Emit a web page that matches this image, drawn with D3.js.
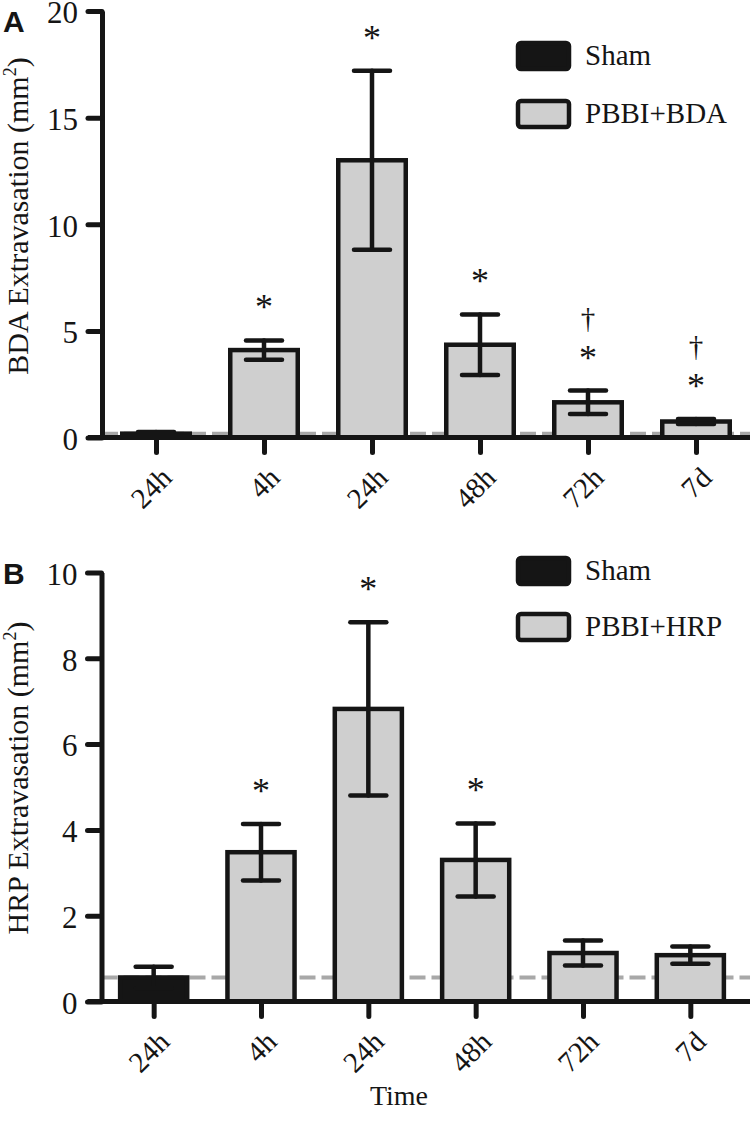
<!DOCTYPE html>
<html><head><meta charset="utf-8">
<script src="https://cdn.jsdelivr.net/npm/d3@7"></script>
<style>body{margin:0;background:#fff}svg{display:block}</style>
</head><body>
<svg id="c" width="752" height="1121"></svg>
<script>
// ---- data ----
const categories = ["24h", "4h", "24h", "48h", "72h", "7d"];
const groups = ["Sham", "PBBI", "PBBI", "PBBI", "PBBI", "PBBI"];
const bdaMean = [0.18, 4.1, 13.0, 4.35, 1.65, 0.75];
const bdaSem = [0.08, 0.45, 4.2, 1.42, 0.55, 0.12];
const bdaMarks = ["", "*", "*", "*", "†*", "†*"];
const hrpMean = [0.56, 3.48, 6.82, 3.3, 1.13, 1.08];
const hrpSem = [0.25, 0.66, 2.02, 0.85, 0.29, 0.2];
const hrpMarks = ["", "*", "*", "*", "", ""];
const bdaTicks = [0, 5, 10, 15, 20];
const hrpTicks = [0, 2, 4, 6, 8, 10];
const legendA = ["Sham", "PBBI+BDA"];
const legendB = ["Sham", "PBBI+HRP"];

const BLACK = "#151515", GRAY = "#cfcfcf", DASH = "#a8a8a8";
const svg = d3.select("#c");
const serif = "'Liberation Serif','Times New Roman',serif";

function panel(cfg) {
  const g = svg.append("g");
  const y = d3.scaleLinear().domain(cfg.domain).range(cfg.yRange);
  const x = d3.scalePoint().domain(d3.range(categories.length)).range(cfg.xRange).padding(0.5);
  const bw = x.step() * 0.625;
  const data = categories.map((c, i) => ({i, c, grp: groups[i], m: cfg.mean[i], s: cfg.sem[i], mk: cfg.marks[i]}));

  // dashed sham reference line (behind bars)
  g.append("line")
    .attr("x1", cfg.axisX).attr("x2", cfg.axisEnd)
    .attr("y1", y(cfg.mean[0])).attr("y2", y(cfg.mean[0]))
    .attr("stroke", DASH).attr("stroke-width", 4).attr("stroke-dasharray", "16,6");

  // bars
  g.selectAll("rect.bar").data(data).join("rect")
    .attr("class", "bar")
    .attr("x", d => x(d.i) - bw / 2)
    .attr("y", d => y(d.m))
    .attr("width", bw)
    .attr("height", d => y(0) - y(d.m))
    .attr("fill", d => d.grp === "Sham" ? BLACK : GRAY)
    .attr("stroke", BLACK).attr("stroke-width", 4.5);

  // error bars
  const eb = g.selectAll("g.eb").data(data).join("g").attr("class", "eb")
    .attr("stroke", BLACK).attr("stroke-width", 4.5).attr("stroke-linecap", "round");
  eb.append("line").attr("x1", d => x(d.i)).attr("x2", d => x(d.i))
    .attr("y1", d => y(d.m - d.s)).attr("y2", d => y(d.m + d.s));
  eb.append("line").attr("x1", d => x(d.i) - 18).attr("x2", d => x(d.i) + 18)
    .attr("y1", d => y(d.m + d.s)).attr("y2", d => y(d.m + d.s));
  eb.append("line").attr("x1", d => x(d.i) - 18).attr("x2", d => x(d.i) + 18)
    .attr("y1", d => y(d.m - d.s)).attr("y2", d => y(d.m - d.s));

  // significance marks
  data.filter(d => d.mk.includes("*")).forEach(d => {
    const top = y(d.m + d.s);
    g.append("text").attr("x", x(d.i)).attr("y", top - 21)
      .attr("text-anchor", "middle").attr("font-family", serif).attr("font-size", 36)
      .attr("fill", BLACK).text("*");
    if (d.mk.includes("†")) {
      g.append("text").attr("x", x(d.i)).attr("y", top - 63)
        .attr("text-anchor", "middle").attr("font-family", serif).attr("font-size", 29)
        .attr("fill", BLACK).text("†");
    }
  });

  // y axis
  const ya = g.append("g").attr("transform", `translate(${cfg.axisX},0)`)
    .call(d3.axisLeft(y).tickValues(cfg.ticks).tickSize(14).tickSizeOuter(0).tickPadding(10));
  ya.select(".domain").attr("stroke", BLACK).attr("stroke-width", 5);
  ya.selectAll(".tick line").attr("stroke", BLACK).attr("stroke-width", 5).attr("stroke-linecap", "round");
  ya.selectAll(".tick text").attr("font-family", serif).attr("font-size", 31).attr("fill", BLACK)
    .attr("dy", "0.38em");

  // x axis
  const xa = g.append("g").attr("transform", `translate(0,${y(0)})`)
    .call(d3.axisBottom(x).tickSize(15).tickSizeOuter(0).tickFormat(i => categories[i]));
  xa.select(".domain").remove();
  xa.append("line").attr("x1", cfg.axisX - 14).attr("x2", cfg.axisEnd)
    .attr("stroke", BLACK).attr("stroke-width", 5);
  xa.selectAll(".tick line").attr("stroke", BLACK).attr("stroke-width", 5).attr("stroke-linecap", "round");
  xa.selectAll(".tick text")
    .attr("font-family", serif).attr("font-size", 29).attr("fill", BLACK)
    .attr("text-anchor", "end").attr("dy", null).attr("y", 0)
    .attr("transform", "translate(17,42) rotate(-45)");

  // y title
  const t = g.append("text")
    .attr("transform", `translate(${cfg.titleX},${cfg.titleY}) rotate(-90)`)
    .attr("text-anchor", "middle").attr("font-family", serif).attr("font-size", 30).attr("fill", BLACK);
  t.append("tspan").text(cfg.title + " (mm");
  t.append("tspan").attr("font-size", 18).attr("dy", -12).text("2");
  t.append("tspan").attr("dy", 12).text(")");

  // panel letter
  g.append("text").attr("x", cfg.letterX).attr("y", cfg.letterY)
    .attr("font-family", "'Liberation Sans',Arial,sans-serif").attr("font-weight", "bold")
    .attr("font-size", 30).attr("fill", BLACK).text(cfg.letter);

  // legend
  const lg = g.append("g").attr("transform", `translate(${cfg.legX},${cfg.legY})`);
  cfg.legend.forEach((lab, k) => {
    const row = lg.append("g").attr("transform", `translate(0,${k * cfg.legGap})`);
    row.append("rect").attr("x", 0).attr("y", 0).attr("width", 51).attr("height", 26).attr("rx", 3)
      .attr("fill", k === 0 ? BLACK : GRAY).attr("stroke", BLACK).attr("stroke-width", 4.5);
    row.append("text").attr("x", 67).attr("y", 22)
      .attr("font-family", serif).attr("font-size", 29).attr("fill", BLACK).text(lab);
  });
}

panel({
  domain: [0, 20], yRange: [437.5, 11], xRange: [102, 750],
  axisX: 102, axisEnd: 750,
  mean: bdaMean, sem: bdaSem, marks: bdaMarks, ticks: bdaTicks,
  title: "BDA Extravasation", titleX: 28, titleY: 216,
  letter: "A", letterX: 3, letterY: 32,
  legend: legendA, legX: 518, legY: 43, legGap: 58
});

panel({
  domain: [0, 10], yRange: [1001.5, 572.5], xRange: [100, 744],
  axisX: 101.5, axisEnd: 750,
  mean: hrpMean, sem: hrpSem, marks: hrpMarks, ticks: hrpTicks,
  title: "HRP Extravasation", titleX: 28, titleY: 778,
  letter: "B", letterX: 3, letterY: 584,
  legend: legendB, legX: 518, legY: 558, legGap: 56
});

svg.append("text").attr("x", 399).attr("y", 1105)
  .attr("text-anchor", "middle").attr("font-family", serif).attr("font-size", 28)
  .attr("fill", BLACK).text("Time");
</script>
</body></html>
